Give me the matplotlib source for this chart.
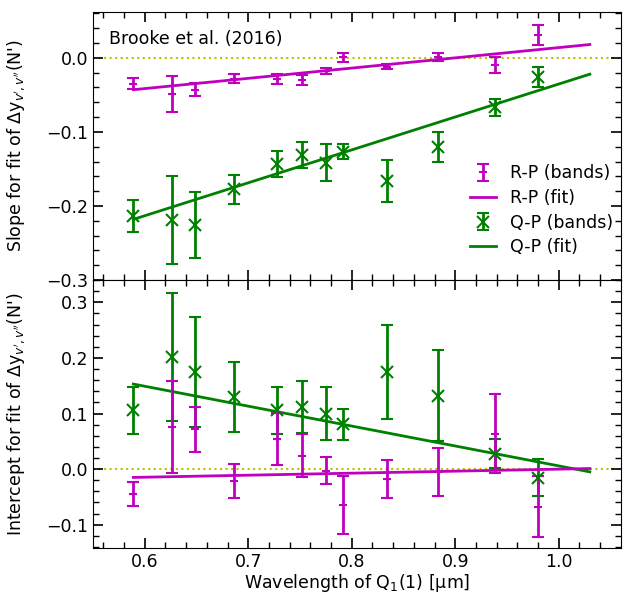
import numpy as np
import matplotlib
matplotlib.use("Agg")
import matplotlib.pyplot as plt

# wavelengths of Q1(1) for each band [um]
wl = [0.589, 0.626, 0.649, 0.686, 0.728, 0.752, 0.7755, 0.792, 0.8345, 0.883, 0.938, 0.980]

# slope (upper panel)
rp_slope = [-0.035, -0.049, -0.043, -0.028, -0.0285, -0.030, -0.018, 0.0005, -0.0117, 0.0013, -0.0095, 0.031]
rp_slope_err = [0.0075, 0.024, 0.009, 0.006, 0.0065, 0.007, 0.004, 0.0065, 0.003, 0.005, 0.011, 0.0135]
qp_slope = [-0.2135, -0.219, -0.2257, -0.1775, -0.1437, -0.131, -0.1415, -0.1266, -0.166, -0.1207, -0.067, -0.0252]
qp_slope_err = [0.022, 0.059, 0.045, 0.020, 0.0175, 0.018, 0.025, 0.0105, 0.028, 0.0205, 0.011, 0.0135]

# intercept (lower panel)
rp_icpt = [-0.045, 0.076, 0.0715, -0.0216, 0.0537, 0.024, -0.003, -0.065, -0.018, -0.0048, 0.0636, -0.068]
rp_icpt_err = [0.021, 0.083, 0.040, 0.031, 0.0465, 0.039, 0.024, 0.052, 0.034, 0.043, 0.0715, 0.0547]
qp_icpt = [0.106, 0.201, 0.175, 0.130, 0.106, 0.112, 0.100, 0.081, 0.175, 0.132, 0.028, -0.0156]
qp_icpt_err = [0.042, 0.115, 0.099, 0.063, 0.042, 0.047, 0.048, 0.028, 0.085, 0.082, 0.026, 0.033]

# fit lines (end points)
fit_x = [0.589, 1.03]
rp_slope_fit = [-0.043, 0.018]
qp_slope_fit = [-0.218, -0.022]
rp_icpt_fit = [-0.015, 0.001]
qp_icpt_fit = [0.153, -0.005]

fig = plt.figure(figsize=(6.24, 5.96), dpi=100)
ax1 = fig.add_axes([0.149, 0.530, 0.846, 0.450])
ax2 = fig.add_axes([0.149, 0.0805, 0.846, 0.4495], sharex=ax1)

eb = dict(capsize=4, elinewidth=2, capthick=2, linestyle='none')

h1 = ax1.errorbar(wl, rp_slope, yerr=rp_slope_err, color='m', marker='_', ms=6, mew=1.5, label='R-P (bands)', **eb)
h2, = ax1.plot(fit_x, rp_slope_fit, color='m', lw=2, label='R-P (fit)')
h3 = ax1.errorbar(wl, qp_slope, yerr=qp_slope_err, color='g', marker='x', ms=8, mew=1.5, label='Q-P (bands)', **eb)
h4, = ax1.plot(fit_x, qp_slope_fit, color='g', lw=2, label='Q-P (fit)')
ax1.axhline(0, color='y', ls=':', lw=1.5, zorder=0)
ax1.text(0.03, 0.9, 'Brooke et al. (2016)', transform=ax1.transAxes, fontsize=12.5, va='center')
ax1.legend(handles=[h1, h2, h3, h4], loc='center right', bbox_to_anchor=(1.015, 0.26),
           frameon=False, fontsize=12.5, handlelength=1.5, handletextpad=0.8, labelspacing=0.38)

ax2.errorbar(wl, qp_icpt, yerr=qp_icpt_err, color='g', marker='x', ms=8, mew=1.5, **eb)
ax2.plot(fit_x, qp_icpt_fit, color='g', lw=2)
ax2.errorbar(wl, rp_icpt, yerr=rp_icpt_err, color='m', marker='_', ms=6, mew=1.5, **eb)
ax2.plot(fit_x, rp_icpt_fit, color='m', lw=2)
ax2.axhline(0, color='y', ls=':', lw=1.5, zorder=0)

ax1.set_xlim(0.55, 1.06)
ax1.set_ylim(-0.3, 0.062)
ax2.set_ylim(-0.142, 0.34)

for ax in (ax1, ax2):
    ax.set_xticks(np.arange(0.6, 1.01, 0.1))
    ax.set_xticks(np.arange(0.56, 1.06, 0.02), minor=True)
    ax.tick_params(which='both', direction='in', top=True, right=True, labelsize=12.5)
    ax.tick_params(which='major', length=7, width=1.2)
    ax.tick_params(which='minor', length=4, width=1)
ax1.set_yticks([-0.3, -0.2, -0.1, 0.0])
ax1.set_yticks(np.arange(-0.3, 0.061, 0.02), minor=True)
ax2.set_yticks([-0.1, 0.0, 0.1, 0.2, 0.3])
ax2.set_yticks(np.arange(-0.14, 0.341, 0.02), minor=True)
ax1.tick_params(labelbottom=False)

ax1.set_ylabel("Slope for fit of $\\Delta$y$_{v',v''}$(N')", fontsize=12.5)
ax2.set_ylabel("Intercept for fit of $\\Delta$y$_{v',v''}$(N')", fontsize=12.5)
ax2.set_xlabel("Wavelength of Q$_1$(1) [\u03bcm]", fontsize=12.5, labelpad=1)
ax1.yaxis.set_label_coords(-0.125, 0.5)
ax2.yaxis.set_label_coords(-0.125, 0.5)

fig.savefig("out.png", dpi=100)
